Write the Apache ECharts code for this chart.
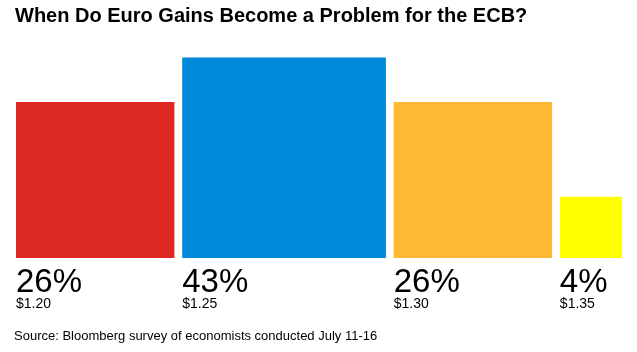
<!DOCTYPE html>
<html>
<head>
<meta charset="utf-8">
<script src="https://cdn.jsdelivr.net/npm/echarts@6/dist/echarts.min.js"></script>
<style>
html, body { margin: 0; padding: 0; background: #fff; }
#main { width: 637px; height: 352px; }
</style>
</head>
<body>
<div id="main"></div>
<script>
// euro level at which economists see a problem for the ECB
var prices = ['$1.20', '$1.25', '$1.30', '$1.35'];
var shares = [26, 43, 26, 4];
var colors = ['#dd2921', '#0089d9', '#fdb932', '#ffff00'];

var gap = 0.25;
// square side is sqrt of the share, so area matches the share
var rows = [];
var pos = 0;
for (var i = 0; i < shares.length; i++) {
    var side = Math.sqrt(shares[i]);
    rows.push([pos, pos + side, side, shares[i]]);
    pos += side + gap;
}
var total = pos - gap;

var myChart = echarts.init(document.getElementById('main'));
var option = {
    backgroundColor: '#fff',
    animation: false,
    title: {
        text: 'When Do Euro Gains Become a Problem for the ECB?',
        left: 15,
        top: 6,
        padding: 0,
        textStyle: { fontFamily: 'Liberation Sans', fontWeight: 'bold', fontSize: 20, color: '#000' }
    },
    graphic: [{
        type: 'text',
        left: 14,
        top: 330,
        style: {
            text: 'Source: Bloomberg survey of economists conducted July 11-16',
            font: '13px "Liberation Sans"',
            fill: '#000'
        }
    }],
    grid: { left: 16, right: 15, top: 44, bottom: 94 },
    xAxis: { type: 'value', min: 0, max: total, show: false },
    yAxis: { type: 'value', min: 0, max: 7, show: false },
    series: [{
        type: 'custom',
        data: rows,
        encode: { x: [0, 1], y: 2 },
        renderItem: function (params, api) {
            var idx = params.dataIndex;
            var p0 = api.coord([api.value(0), api.value(2)]);
            var p1 = api.coord([api.value(1), 0]);
            return {
                type: 'group',
                children: [{
                    type: 'rect',
                    shape: { x: p0[0], y: p0[1], width: p1[0] - p0[0], height: p1[1] - p0[1] },
                    style: { fill: colors[idx] }
                }, {
                    type: 'text',
                    x: p0[0],
                    y: p1[1] + 8,
                    style: {
                        text: api.value(3) + '%',
                        font: '33px "Liberation Sans"',
                        fill: '#000',
                        verticalAlign: 'top'
                    }
                }, {
                    type: 'text',
                    x: p0[0],
                    y: p1[1] + 39,
                    style: {
                        text: prices[idx],
                        font: '14px "Liberation Sans"',
                        fill: '#000',
                        verticalAlign: 'top'
                    }
                }]
            };
        }
    }]
};
myChart.setOption(option);
</script>
</body>
</html>
